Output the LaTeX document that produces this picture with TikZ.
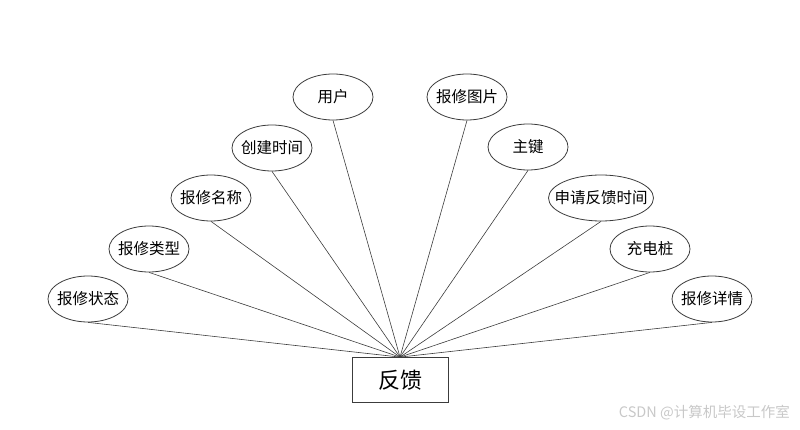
\documentclass[tikz,border=0pt]{standalone}
\usepackage{fontspec}
\setmainfont{Noto Sans CJK SC}
\usetikzlibrary{shapes.geometric}
\definecolor{edgegray}{RGB}{60,60,60}
\definecolor{markgray}{RGB}{200,200,200}
\newcommand{\attrlabel}[1]{\makebox[0pt]{#1}}
\tikzset{
  attr/.style={ellipse, draw=edgegray, line width=0.8pt, fill=white,
               minimum width=80pt, minimum height=46pt, inner sep=0pt,
               font=\fontsize{15.5}{18}\selectfont},
  entity/.style={rectangle, draw=edgegray, line width=0.8pt, fill=white,
                 minimum width=96pt, minimum height=45pt,
                 font=\fontsize{22}{24}\selectfont},
  link/.style={draw=edgegray, line width=0.6pt}
}

\begin{document}
\begin{tikzpicture}[x=1pt,y=-1pt]
  \useasboundingbox (0,0) rectangle (800,430);

  % entity
  \node[entity] (fankui) at (400,380) {反馈};

  % attributes, left side
  \node[attr] (zhuangtai) at (88,299)  {\attrlabel{报修状态}};
  \node[attr] (leixing)   at (149,249) {\attrlabel{报修类型}};
  \node[attr] (mingcheng) at (211,198) {\attrlabel{报修名称}};
  \node[attr] (chuangjian) at (272,148) {\attrlabel{创建时间}};
  \node[attr] (yonghu)    at (333,97)  {\attrlabel{用户}};

  % attributes, right side
  \node[attr] (tupian)    at (467,97)  {\attrlabel{报修图片}};
  \node[attr] (zhujian)   at (528,147) {\attrlabel{主键}};
  \node[attr, minimum width=105pt] (shenqing) at (601,198) {\attrlabel{申请反馈时间}};
  \node[attr] (zhuang)    at (650,249) {\attrlabel{充电桩}};
  \node[attr] (xiangqing) at (712,299) {\attrlabel{报修详情}};

  % connectors
  \foreach \a in {zhuangtai, leixing, mingcheng, chuangjian, yonghu,
                  tupian, zhujian, shenqing, zhuang, xiangqing}
    \draw[link] (\a.south) -- (fankui.north);

  % watermark
  \node[anchor=east, text=markgray, inner sep=0pt,
        font=\fontsize{14.5}{16}\selectfont] (csdn) at (790,413) {CSDN @计算机毕设工作室};
\end{tikzpicture}
\end{document}
